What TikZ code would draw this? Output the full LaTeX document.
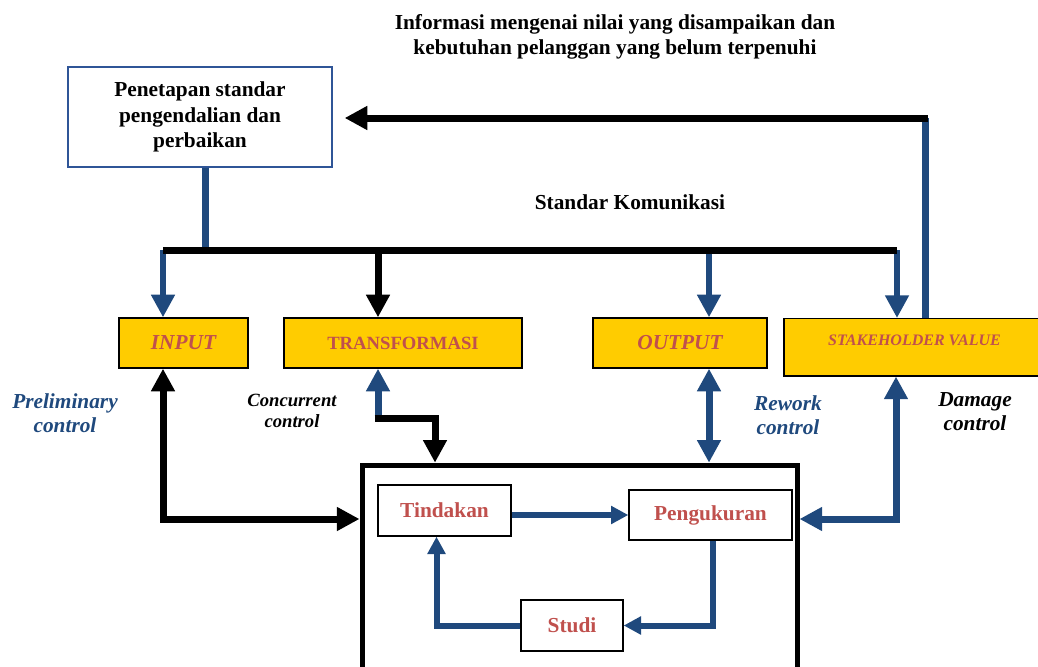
\documentclass[tikz,border=0pt]{standalone}
\usepackage{fontspec}
\setmainfont{Liberation Serif}
\usetikzlibrary{arrows.meta}
\definecolor{biru}{RGB}{31,73,125}
\definecolor{birubox}{RGB}{47,85,151}
\definecolor{emas}{RGB}{255,204,0}
\definecolor{merah}{RGB}{192,80,77}
\tikzset{
  huruf/.style={font=\fontsize{16}{19}\selectfont\bfseries},
  kotak/.style={draw, line width=1pt, fill=emas, text=merah, minimum height=37.5pt, huruf},
  kotakdalam/.style={draw, line width=1pt, fill=white, text=merah, huruf},
  tebal/.style={line width=5.25pt},
  tipis/.style={line width=4.5pt, draw=biru},
  ujung/.tip={Triangle[width=17pt,length=17pt]},
  ujungkecil/.tip={Triangle[width=13pt,length=13pt]},
}
\begin{document}
\begin{tikzpicture}[x=0.75pt,y=-0.75pt]
  \useasboundingbox (0,0) rectangle (1038,667);
  \node (Ju) at (615,37) [huruf, align=center] {Informasi mengenai nilai yang disampaikan dan\\kebutuhan pelanggan yang belum terpenuhi};
  \node (Pe) at (200,117) [draw=birubox, line width=1pt, minimum width=198pt, minimum height=75pt, align=center, huruf] {Penetapan standar\\pengendalian dan\\perbaikan};
  \node (Ko) at (630,202) [huruf] {Standar Komunikasi};
  \node (In) at (183.5,343) [kotak, minimum width=96.75pt] {\itshape INPUT};
  \node (Tr) at (403,343) [kotak, minimum width=178.5pt, font=\fontsize{14}{17}\selectfont\bfseries] {TRANSFORMASI};
  \node (Ou) at (680,343) [kotak, minimum width=130.5pt] {\itshape OUTPUT};
  \node (Sv) at (914.5,318) [kotak, anchor=north, minimum width=195.75pt, minimum height=0pt, text height=16.5pt, text depth=19.75pt, font=\fontsize{12}{14}\selectfont\bfseries\itshape] {STAKEHOLDER VALUE};
  \node (Pr) at (579.5,582.5) [draw, line width=3.75pt, minimum width=326.25pt, minimum height=176pt] {};
  \node (Ti) at (444.5,510.5) [kotakdalam, minimum width=99.75pt, minimum height=38.25pt] {Tindakan};
  \node (Pg) at (710.5,515) [kotakdalam, minimum width=122.25pt, minimum height=37.5pt] {Pengukuran};
  \node (Su) at (572,625.5) [kotakdalam, minimum width=76.5pt, minimum height=38.25pt] {Studi};
  \node (Pl) at (65,413) [huruf, font=\fontsize{16}{18}\selectfont\bfseries\itshape, text=biru, align=center] {Preliminary\\control};
  \node (Cc) at (292,411) [font=\fontsize{14}{16}\selectfont\bfseries\itshape, align=center] {Concurrent\\control};
  \node (Rw) at (788,415) [font=\fontsize{16}{18}\selectfont\bfseries\itshape, text=biru, align=center] {Rework\\control};
  \node (Dm) at (975,412) [font=\fontsize{16}{18}\selectfont\bfseries\itshape, align=center] {Damage\\control};
  \coordinate (BL) at (163,250);
  \coordinate (BT) at (378,250);
  \coordinate (BO) at (709,250);
  \coordinate (BR) at (897,250);
  \coordinate (Up) at (925,118);
  \coordinate (Lp) at (163,519);
  \coordinate (Tk) at (378,418);
  \coordinate (Tb) at (435,418);
  \coordinate (Rp) at (896,519);
  % jalur standar ke semua bagian
  \draw[tipis, -ujung] (BL) -- (BL |- In.north);
  \draw[tebal, -ujung] (BT) -- (BT |- Tr.north);
  \draw[tipis, -ujung] (BO) -- (BO |- Ou.north);
  \draw[tipis, -ujung] (BR) -- (BR |- Sv.north);
  \draw[tipis, line width=5.25pt] ([xshift=3.75pt]Pe.south) -- ([xshift=3.75pt]Pe.south |- BL);
  \draw[tebal] (BL) -- (BR);
  % umpan balik
  \draw[tipis, line width=5.25pt] (Up |- Sv.north) -- (Up);
  \draw[tebal, -ujung, shorten >=9pt] ([xshift=2.6pt]Up) -- (Up -| Pe.east);
  \draw[tebal, ujung-ujung] (Lp |- In.south) -- (Lp) -- (Lp -| Pr.west);
  \draw[tipis, line width=5.25pt, -ujung] (Tk) -- (Tk |- Tr.south);
  \draw[tebal, -ujung] ([xshift=-2.6pt]Tk) -- (Tb) -- (Tb |- Pr.north);
  \draw[tipis, line width=5.25pt, ujung-ujung] (BO |- Ou.south) -- (BO |- Pr.north);
  \draw[tipis, line width=5.25pt, ujung-ujung] (Rp -| Pr.east) -- (Rp) -- (Rp |- Sv.south);
  \draw[tipis, -ujungkecil] (Ti.east |- Pg) -- (Pg.west);
  \draw[tipis, -ujungkecil] ([xshift=2pt]Pg.south) -- ([xshift=2pt]Pg.south |- Su.east) -- (Su.east);
  \draw[tipis, -ujungkecil] (Su.west) -| ([xshift=-6pt]Ti.south);
\end{tikzpicture}
\end{document}
